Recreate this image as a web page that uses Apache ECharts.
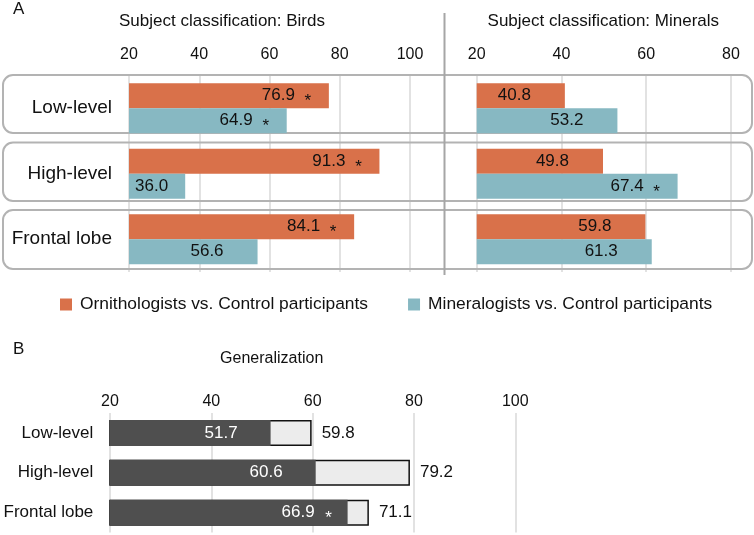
<!DOCTYPE html>
<html>
<head>
<meta charset="utf-8">
<script src="https://cdn.jsdelivr.net/npm/echarts@6/dist/echarts.min.js"></script>
<style>html,body{margin:0;padding:0;background:#fff;}#c{width:754px;height:535px;}</style>
</head>
<body>
<div id="c"></div>
<script>
// ---- data ----
const rowsA = ['Low-level', 'High-level', 'Frontal lobe'];
const rowsB = ['Low-level', 'High-level', 'Frontal lobe'];
const seriesNames = ['Ornithologists vs. Control participants', 'Mineralogists vs. Control participants'];
const birdsOrn = [76.9, 91.3, 84.1];
const birdsOrnSig = [true, true, true];
const birdsMin = [64.9, 36.0, 56.6];
const birdsMinSig = [true, false, false];
const minerOrn = [40.8, 49.8, 59.8];
const minerOrnSig = [false, false, false];
const minerMin = [53.2, 67.4, 61.3];
const minerMinSig = [false, true, false];
const genCorrect = [51.7, 60.6, 66.9];
const genCorrectSig = [false, false, true];
const genTotal = [59.8, 79.2, 71.1];
const birdsAxis = {min: 20, max: 100, interval: 20};
const mineralsAxis = {min: 20, max: 80, interval: 20};
const genAxis = {min: 20, max: 100, interval: 20};

const FF = 'Liberation Sans, Arial, Helvetica, sans-serif';
const ORANGE = '#d9714a';
const TEAL = '#87b8c2';
const TXT = '#111';

const gridBirds = {left: 129, top: 75.5, width: 281, height: 196.5};
const gridMinerals = {left: 476.7, top: 75.5, width: 254.3, height: 196.5};
const gridGen = {left: 110, top: 413, width: 405.3, height: 119.6};

function barData(vals, sigs, ax, gridW) {
  return vals.map((v, i) => {
    const t = v.toFixed(1);
    const px = (v - ax.min) / (ax.max - ax.min) * gridW;
    if (px < 70) {
      return {value: v, label: {position: 'insideLeft', distance: 6, formatter: '{v|' + t + '}'}};
    }
    return {value: v, label: {formatter: '{v|' + t + '}{s|' + (sigs[i] ? '*' : ' ') + '}'}};
  });
}

function labelA() {
  return {
    show: true, position: 'insideRight', distance: 8,
    rich: {
      v: {fontSize: 17, color: TXT, fontFamily: FF},
      s: {fontSize: 17, color: TXT, fontFamily: FF, width: 26, align: 'center', padding: [12, 0, 0, 0]}
    }
  };
}

function valAxis(grid, ax, margin) {
  return {
    gridIndex: grid, type: 'value', position: 'top',
    min: ax.min, max: ax.max, interval: ax.interval,
    axisLine: {show: false}, axisTick: {show: false},
    splitLine: {show: true, lineStyle: {color: '#d9d9d9', width: 1.5}},
    axisLabel: {fontSize: 16, color: TXT, margin: margin, fontFamily: FF}
  };
}

function catAxis(grid, data, show, size, margin) {
  return {
    gridIndex: grid, type: 'category', data: data, inverse: true,
    axisLine: {show: false}, axisTick: {show: false}, splitLine: {show: false},
    axisLabel: {show: show, fontSize: size, color: TXT, margin: margin, fontFamily: FF}
  };
}

const chart = echarts.init(document.getElementById('c'));
const option = {
  animation: false,
  textStyle: {fontFamily: FF},
  legend: {
    left: 60, top: 296, padding: 0, itemWidth: 12, itemHeight: 12, itemGap: 40, icon: 'rect',
    data: seriesNames,
    textStyle: {fontSize: 17.4, color: TXT, padding: [0, 0, 0, 3], fontFamily: FF}
  },
  grid: [gridBirds, gridMinerals, gridGen],
  xAxis: [
    valAxis(0, birdsAxis, 12.5),
    valAxis(1, mineralsAxis, 12.5),
    valAxis(2, genAxis, 3.3)
  ],
  yAxis: [
    catAxis(0, rowsA, true, 19, 17),
    catAxis(1, rowsA, false, 19, 17),
    catAxis(2, rowsB, true, 17, 16.7)
  ],
  series: [
    {name: seriesNames[0], type: 'bar', xAxisIndex: 0, yAxisIndex: 0, barWidth: 25, barGap: '0%',
     itemStyle: {color: ORANGE}, label: labelA(), data: barData(birdsOrn, birdsOrnSig, birdsAxis, gridBirds.width)},
    {name: seriesNames[1], type: 'bar', xAxisIndex: 0, yAxisIndex: 0, barWidth: 25, barGap: '0%',
     itemStyle: {color: TEAL}, label: labelA(), data: barData(birdsMin, birdsMinSig, birdsAxis, gridBirds.width)},
    {name: seriesNames[0], type: 'bar', xAxisIndex: 1, yAxisIndex: 1, barWidth: 25, barGap: '0%',
     itemStyle: {color: ORANGE}, label: labelA(), data: barData(minerOrn, minerOrnSig, mineralsAxis, gridMinerals.width)},
    {name: seriesNames[1], type: 'bar', xAxisIndex: 1, yAxisIndex: 1, barWidth: 25, barGap: '0%',
     itemStyle: {color: TEAL}, label: labelA(), data: barData(minerMin, minerMinSig, mineralsAxis, gridMinerals.width)},
    {name: 'Total', type: 'bar', xAxisIndex: 2, yAxisIndex: 2, barWidth: 26, barGap: '-100%',
     itemStyle: {color: '#ececec', borderColor: '#111', borderWidth: 1.5},
     label: {show: true, position: 'right', distance: 10, fontSize: 17, color: TXT, fontFamily: FF,
             formatter: p => p.value.toFixed(1)},
     data: genTotal},
    {name: 'Correct', type: 'bar', xAxisIndex: 2, yAxisIndex: 2, barWidth: 26, barGap: '-100%',
     itemStyle: {color: '#4f4f4f'},
     label: {show: true, position: 'insideRight', distance: 5,
             rich: {
               v: {fontSize: 17, color: '#fff', fontFamily: FF},
               s: {fontSize: 17, color: '#fff', fontFamily: FF, width: 28, align: 'center', padding: [12, 0, 0, 0]}
             }},
     data: genCorrect.map((v, i) => ({value: v, label: {formatter: '{v|' + v.toFixed(1) + '}{s|' + (genCorrectSig[i] ? '*' : ' ') + '}'}}))}
  ],
  graphic: [
    {type: 'rect', z: 1, silent: true, shape: {x: 3, y: 75, width: 749, height: 58, r: 10}, style: {fill: 'none', stroke: '#b3b3b3', lineWidth: 2}},
    {type: 'rect', z: 1, silent: true, shape: {x: 3, y: 142.5, width: 749, height: 58.5, r: 10}, style: {fill: 'none', stroke: '#b3b3b3', lineWidth: 2}},
    {type: 'rect', z: 1, silent: true, shape: {x: 3, y: 210, width: 749, height: 59, r: 10}, style: {fill: 'none', stroke: '#b3b3b3', lineWidth: 2}},
    {type: 'line', z: 1, silent: true, shape: {x1: 444.5, y1: 13, x2: 444.5, y2: 275}, style: {stroke: '#a6a6a6', lineWidth: 2}},
    {type: 'text', x: 13, y: 9, style: {text: 'A', fontSize: 17, fontFamily: FF, fill: TXT, align: 'left', verticalAlign: 'middle'}},
    {type: 'text', x: 13, y: 349, style: {text: 'B', fontSize: 17, fontFamily: FF, fill: TXT, align: 'left', verticalAlign: 'middle'}},
    {type: 'text', x: 222, y: 21, style: {text: 'Subject classification: Birds', fontSize: 17, fontFamily: FF, fill: TXT, align: 'center', verticalAlign: 'middle'}},
    {type: 'text', x: 603.3, y: 21, style: {text: 'Subject classification: Minerals', fontSize: 17, fontFamily: FF, fill: TXT, align: 'center', verticalAlign: 'middle'}},
    {type: 'text', x: 271.7, y: 359, style: {text: 'Generalization', fontSize: 16, fontFamily: FF, fill: TXT, align: 'center', verticalAlign: 'middle'}}
  ]
};
chart.setOption(option);
</script>
</body>
</html>
